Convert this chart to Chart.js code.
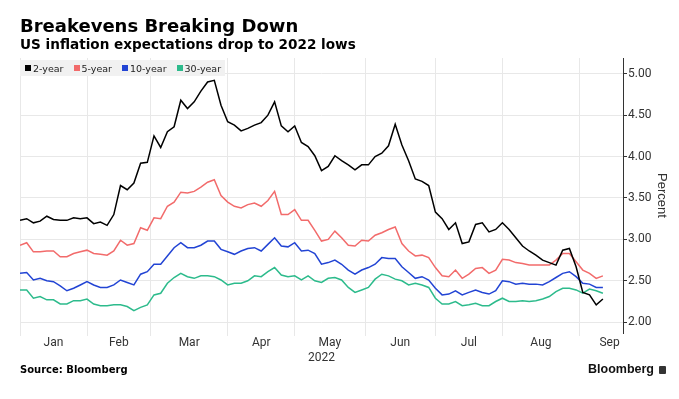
<!DOCTYPE html>
<html>
<head>
<meta charset="utf-8">
<script src="https://cdn.jsdelivr.net/npm/chart.js@4.4.1/dist/chart.umd.min.js"></script>
<style>
  body { margin: 0; background: #fff; }
  #wrap { position: relative; width: 679px; height: 399px; overflow: hidden; font-family: 'DejaVu Sans', sans-serif; }
  #chart { position: absolute; left: 0; top: 0; }
  #title { position: absolute; left: 20px; top: 17px; font-size: 18px; line-height: 18px; font-weight: bold; color: #000; white-space: nowrap; }
  #sub { position: absolute; left: 20px; top: 38px; font-size: 13.6px; line-height: 13px; font-weight: bold; color: #000; white-space: nowrap; }
  #legend { position: absolute; left: 20px; top: 60px; width: 205px; height: 16px; background: #f1f1f1;
            display: flex; align-items: center; font-size: 9.5px; color: #222; white-space: nowrap; }
  #legend .item { display: flex; align-items: center; margin-left: 5px; margin-right: 5px; white-space: nowrap; }
  #legend .sw { width: 6px; height: 6px; margin-right: 2px; flex: none; }
  #source { position: absolute; left: 20px; top: 365px; font-size: 10px; line-height: 10px; font-weight: bold; color: #000; }
  #brand { position: absolute; left: 588px; top: 363px; font-family: 'Liberation Sans', Arial, sans-serif;
           font-size: 12.5px; line-height: 13px; font-weight: bold; color: #111; display: flex; align-items: center; }
  #brand .ico { display: inline-block; width: 7px; height: 8px; background: #333; border-radius: 1px; margin-left: 5px; }
</style>
</head>
<body>
<div id="wrap">
  <canvas id="chart" width="679" height="399"></canvas>
  <div id="title">Breakevens Breaking Down</div>
  <div id="sub">US inflation expectations drop to 2022 lows</div>
  <div id="legend"></div>
  <div id="source">Source: Bloomberg</div>
  <div id="brand">Bloomberg<span class="ico"></span></div>
</div>
<script>
// trading-day index from Jan 3, 2022 (every second session)
const days = [0, 2, 4, 6, 8, 10, 12, 14, 16, 18,
  20, 22, 24, 26, 28, 30, 32, 34, 36, 38,
  40, 42, 44, 46, 48, 50, 52, 54, 56, 58,
  60, 62, 64, 66, 68, 70, 72, 74, 76, 78,
  80, 82, 84, 86, 88, 90, 92, 94, 96, 98,
  100, 102, 104, 106, 108, 110, 112, 114, 116, 118,
  120, 122, 124, 126, 128, 130, 132, 134, 136, 138,
  140, 142, 144, 146, 148, 150, 152, 154, 156, 158,
  160, 162, 164, 166, 168, 170, 172, 174];

const twoYear = [3.23, 3.25, 3.20, 3.22, 3.28, 3.24, 3.23, 3.23, 3.26, 3.25,
  3.26, 3.19, 3.21, 3.17, 3.30, 3.65, 3.60, 3.68, 3.92, 3.93,
  4.25, 4.11, 4.30, 4.36, 4.68, 4.58, 4.66, 4.79, 4.90, 4.92,
  4.62, 4.42, 4.38, 4.31, 4.34, 4.38, 4.41, 4.50, 4.66, 4.37,
  4.30, 4.37, 4.17, 4.12, 4.01, 3.83, 3.88, 4.01, 3.95, 3.90,
  3.84, 3.90, 3.90, 4.00, 4.04, 4.13, 4.39, 4.14, 3.95, 3.73,
  3.70, 3.65, 3.33, 3.25, 3.12, 3.20, 2.95, 2.97, 3.18, 3.20,
  3.09, 3.12, 3.20, 3.12, 3.02, 2.92, 2.86, 2.81, 2.75, 2.72,
  2.69, 2.87, 2.89, 2.67, 2.36, 2.33, 2.21, 2.28];

const fiveYear = [2.93, 2.96, 2.85, 2.85, 2.86, 2.86, 2.79, 2.79, 2.83, 2.85,
  2.87, 2.83, 2.82, 2.81, 2.86, 2.99, 2.93, 2.95, 3.14, 3.11,
  3.26, 3.25, 3.40, 3.45, 3.57, 3.56, 3.58, 3.63, 3.69, 3.72,
  3.53, 3.45, 3.40, 3.38, 3.42, 3.44, 3.40, 3.47, 3.58, 3.30,
  3.30, 3.36, 3.23, 3.23, 3.11, 2.98, 3.00, 3.10, 3.02, 2.93,
  2.92, 2.99, 2.98, 3.05, 3.08, 3.12, 3.15, 2.95, 2.86, 2.80,
  2.81, 2.78, 2.66, 2.56, 2.55, 2.63, 2.53, 2.58, 2.65, 2.66,
  2.59, 2.63, 2.76, 2.75, 2.72, 2.71, 2.69, 2.69, 2.69, 2.69,
  2.75, 2.83, 2.83, 2.73, 2.63, 2.59, 2.53, 2.56];

const tenYear = [2.59, 2.60, 2.51, 2.53, 2.50, 2.49, 2.44, 2.38, 2.41, 2.45,
  2.49, 2.45, 2.42, 2.42, 2.45, 2.51, 2.48, 2.45, 2.58, 2.61,
  2.70, 2.70, 2.80, 2.90, 2.96, 2.90, 2.90, 2.93, 2.98, 2.98,
  2.88, 2.85, 2.82, 2.86, 2.89, 2.90, 2.86, 2.94, 3.02, 2.92,
  2.91, 2.96, 2.86, 2.87, 2.83, 2.70, 2.72, 2.75, 2.70, 2.63,
  2.58, 2.63, 2.66, 2.70, 2.78, 2.77, 2.77, 2.67, 2.60, 2.53,
  2.55, 2.51, 2.41, 2.33, 2.34, 2.38, 2.33, 2.36, 2.39, 2.36,
  2.34, 2.38, 2.50, 2.49, 2.46, 2.47, 2.46, 2.46, 2.45, 2.49,
  2.54, 2.59, 2.61, 2.55, 2.47, 2.46, 2.42, 2.42];

const thirtyYear = [2.39, 2.39, 2.29, 2.31, 2.27, 2.27, 2.22, 2.22, 2.26, 2.26,
  2.28, 2.22, 2.20, 2.20, 2.21, 2.21, 2.19, 2.14, 2.18, 2.21,
  2.33, 2.35, 2.47, 2.54, 2.59, 2.55, 2.53, 2.56, 2.56, 2.55,
  2.51, 2.45, 2.47, 2.47, 2.50, 2.56, 2.55, 2.61, 2.66, 2.57,
  2.55, 2.56, 2.51, 2.56, 2.50, 2.48, 2.53, 2.54, 2.51, 2.42,
  2.36, 2.39, 2.42, 2.52, 2.58, 2.56, 2.52, 2.50, 2.45, 2.47,
  2.45, 2.42, 2.29, 2.22, 2.22, 2.25, 2.20, 2.21, 2.23, 2.20,
  2.20, 2.25, 2.29, 2.25, 2.25, 2.26, 2.25, 2.26, 2.28, 2.31,
  2.37, 2.41, 2.41, 2.39, 2.35, 2.40, 2.38, 2.35];

const monthNames = ['Jan', 'Feb', 'Mar', 'Apr', 'May', 'Jun', 'Jul', 'Aug', 'Sep'];
const monthStarts = [0, 20, 39, 62, 82, 103, 124, 144, 167];
const monthMids = [10, 29.5, 50.5, 72, 92.5, 113.5, 134, 155.5, 176];
const yTicks = [2.0, 2.5, 3.0, 3.5, 4.0, 4.5, 5.0];

const seriesNames = ['2-year', '5-year', '10-year', '30-year'];
const seriesColors = ['#000000', '#f26b6b', '#2244d4', '#2dbb8c'];
const seriesData = [twoYear, fiveYear, tenYear, thirtyYear];

const axisFont = { family: "'Liberation Sans Narrow', Roboto, sans-serif", size: 12 };
const gridColor = '#e8e8e8';

const chart = new Chart(document.getElementById('chart'), {
    type: 'line',
    data: {
        labels: days,
        datasets: seriesNames.map((name, i) => ({
            label: name,
            data: seriesData[i],
            borderColor: seriesColors[i],
            backgroundColor: seriesColors[i],
            borderWidth: 1.5,
            pointRadius: 0,
            tension: 0
        }))
    },
    options: {
        responsive: false,
        animation: false,
        layout: { padding: { left: 20, top: 58, right: 0, bottom: 34 } },
        plugins: { legend: { display: false }, tooltip: { enabled: false } },
        scales: {
            x: {
                type: 'linear', min: 0, max: 180, position: 'bottom', weight: 0,
                grid: { color: gridColor, tickColor: gridColor, tickLength: 3 },
                border: { display: false },
                ticks: { display: false },
                afterBuildTicks: s => { s.ticks = monthStarts.map(v => ({ value: v })); },
                afterFit: s => { s.height = 3; }
            },
            xm: {
                type: 'linear', min: 0, max: 180, position: 'bottom', weight: 1,
                grid: { display: false, drawTicks: false },
                border: { display: false },
                ticks: {
                    autoSkip: false, maxRotation: 0, padding: 0,
                    font: axisFont, color: '#333',
                    callback: (v, i) => monthNames[i]
                },
                afterBuildTicks: s => { s.ticks = monthMids.map(v => ({ value: v })); },
                afterFit: s => { s.height = 29; },
                title: { display: true, text: '2022', padding: 0, font: axisFont, color: '#333' }
            },
            y: {
                position: 'right', min: 1.87, max: 5.19,
                grid: { color: gridColor, tickColor: '#333', tickLength: 4 },
                border: { display: true, color: '#333', width: 1 },
                ticks: { padding: 1, font: axisFont, color: '#333', callback: v => v.toFixed(2) },
                afterBuildTicks: s => { s.ticks = yTicks.map(v => ({ value: v })); },
                afterFit: s => { s.width = 56; },
                title: { display: true, text: 'Percent', padding: { top: 10, bottom: 0 },
                         font: { family: "'Liberation Sans', Arial, sans-serif", size: 13 }, color: '#333' }
            }
        }
    }
});

// Legend built from the chart's datasets
const legend = document.getElementById('legend');
chart.data.datasets.forEach(ds => {
    const item = document.createElement('span');
    item.className = 'item';
    item.innerHTML = '<span class="sw" style="background:' + ds.borderColor + '"></span>' + ds.label;
    legend.appendChild(item);
});
</script>
</body>
</html>
